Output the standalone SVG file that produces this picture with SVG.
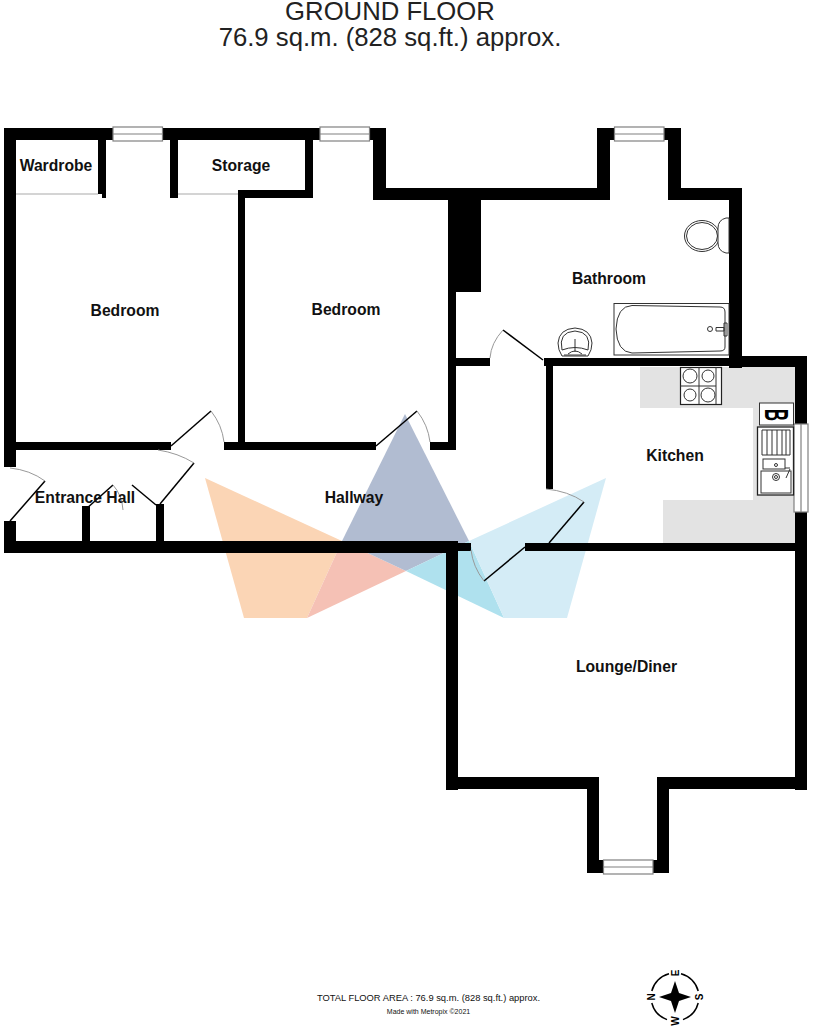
<svg xmlns="http://www.w3.org/2000/svg" width="816" height="1032" viewBox="0 0 816 1032">
<style>
text{font-family:"Liberation Sans",Arial,sans-serif;fill:#111}
.t{font-size:25.7px;text-anchor:middle;fill:#222}
.r{font-size:15.7px;font-weight:bold;text-anchor:middle}
.w{fill:#000}
.door{stroke:#000;stroke-width:1.5;fill:none}
.arc{stroke:#999;stroke-width:1;fill:none}
.win{fill:#fff;stroke:#808080;stroke-width:1.2}
.fx{fill:#fff;stroke:#333;stroke-width:1}
.fn{fill:none;stroke:#333;stroke-width:1}
.gl{stroke:#aaa;stroke-width:1.2;fill:none}
.c{font-size:10px;font-weight:bold;text-anchor:middle;fill:#000}
</style>
<defs>
<g id="window-h"><rect class="win" x="0" y="0" width="49.5" height="14"/><line class="win" x1="0" y1="7" x2="49.5" y2="7"/></g>
</defs>
<text class="t" x="390" y="20">GROUND FLOOR</text>
<text class="t" x="390" y="46">76.9 sq.m. (828 sq.ft.) approx.</text>

<g id="logo">
<polygon fill="#FBD5B5" points="205,478 244,618 307,618 342,541"/>
<polygon fill="#F5C1B5" points="342,541 307,618 406,571"/>
<polygon fill="#B1BCD1" points="405,414 342,541 406,571 469,541"/>
<polygon fill="#AFE1EE" points="406,571 469,541 504,618"/>
<polygon fill="#D4ECF6" points="606,478 567,618 504,618 469,541"/>
</g>

<g id="kitchen-counter" fill="#E3E3E3">
<path d="M640 367H795V543H663V500H753V408H640Z"/>
</g>

<g id="walls" class="w">
<rect x="4" y="128" width="12" height="339"/>
<rect x="4" y="128" width="109" height="12"/>
<rect x="162" y="128" width="158" height="12"/>
<rect x="369" y="128" width="17" height="12"/>
<rect x="98" y="128" width="8" height="66"/><rect x="102" y="190" width="4" height="8"/>
<rect x="170" y="128" width="8" height="70"/>
<rect x="305" y="128" width="8" height="70"/>
<rect x="238" y="190" width="75" height="8"/>
<rect x="238" y="190" width="7" height="260"/>
<rect x="373" y="128" width="13" height="72"/>
<rect x="373" y="188" width="237" height="12"/>
<rect x="597" y="128" width="13" height="72"/>
<rect x="597" y="128" width="17" height="12"/>
<rect x="664" y="128" width="17" height="12"/>
<rect x="668" y="128" width="13" height="72"/>
<rect x="668" y="188" width="74" height="12"/>
<rect x="729" y="188" width="13" height="180"/>
<rect x="449" y="200" width="32" height="92"/>
<rect x="448" y="200" width="8" height="250"/>
<rect x="16" y="442" width="155" height="8"/>
<rect x="224" y="442" width="152" height="8"/>
<rect x="430" y="442" width="26" height="8"/>
<rect x="456" y="358" width="34" height="8"/>
<rect x="544" y="358" width="198" height="8"/>
<rect x="546" y="358" width="7" height="131"/>
<rect x="736" y="356" width="71" height="11"/>
<rect x="795" y="356" width="12" height="68"/>
<rect x="795" y="512" width="12" height="278"/>
<rect x="4" y="521" width="12" height="32"/>
<rect x="4" y="541" width="448" height="12"/>
<rect x="82" y="506" width="8" height="35"/>
<rect x="156" y="504" width="8" height="37"/>
<rect x="446" y="541" width="12" height="249"/>
<rect x="446" y="543" width="25" height="8"/>
<rect x="525" y="543" width="282" height="8"/>
<rect x="446" y="777" width="153" height="12"/>
<rect x="657" y="777" width="150" height="12"/>
<rect x="587" y="777" width="12" height="96"/>
<rect x="657" y="777" width="12" height="96"/>
<rect x="587" y="860" width="16" height="13"/>
<rect x="653" y="860" width="16" height="13"/>
</g>

<g id="lines">
<line class="gl" x1="16" y1="194" x2="98" y2="194"/>
<line class="gl" x1="178" y1="194" x2="238" y2="194"/>
</g>

<g id="windows">
<use href="#window-h" x="113" y="127"/>
<use href="#window-h" x="320" y="127"/>
<use href="#window-h" x="614.5" y="127"/>
<use href="#window-h" x="603.5" y="860"/>
<g><rect class="win" x="794" y="424" width="14" height="88"/><line class="win" x1="801" y1="424" x2="801" y2="512"/></g>
</g>

<g id="doors">
<path class="door" d="M10 521L45 481"/><path class="arc" d="M45 481Q30 470 10 468"/>
<path class="door" d="M160 504L194 463"/><path class="arc" d="M194 463Q178 453 158 450"/>
<path class="door" d="M171 446L211 411"/><path class="arc" d="M211 411Q222 425 224 442"/>
<path class="door" d="M376 446L417 411"/><path class="arc" d="M417 411Q428 425 430 442"/>
<path class="door" d="M543 360L503 330"/><path class="arc" d="M503 330Q491 343 490 358"/>
<path class="door" d="M549 543L584 502"/><path class="arc" d="M584 502Q568 491 546 489"/>
<path class="door" d="M525 547L484 581"/><path class="arc" d="M484 581Q473 567 471 550"/>
<path class="door" d="M86 509L113 485"/><path class="arc" d="M113 485Q122 495 123 510"/>
<path class="door" d="M156 505L132 485"/>
</g>

<g id="toilet">
<ellipse class="fx" cx="702" cy="236" rx="17.5" ry="15.5"/>
<ellipse class="fn" cx="702" cy="236" rx="15.5" ry="13.5"/>
<path class="fx" d="M729 218H726Q718 220 718 228V243Q718 251 726 253H729Z"/>
</g>
<g id="bath">
<rect class="fx" x="614" y="303.500" width="115" height="51.500"/>
<path class="fn" d="M632 305.500L720 307Q725 307 725 312V347Q725 351 720 351L632 353Q617 352 616 329Q617 306 632 305.500Z"/>
<circle class="fn" cx="710" cy="329" r="2.500"/>
<path class="fn" d="M716 327.500H724V331H716ZM724 323H727V336H724Z"/>
</g>
<g id="basin">
<path class="fx" d="M562 356Q558 350 558 343Q559 329 575 328Q591 329 592 343Q592 350 588 356Z"/>
<path class="fn" d="M562 350Q558 332 575 331Q592 332 588 350Q575 345 562 350Z"/>
<path class="fn" d="M575 339V352M568 354Q575 348 582 354M564 355H586"/>
</g>
<g id="cooker">
<rect x="680.500" y="367.500" width="41" height="37" fill="#fff" stroke="#222" stroke-width="1.200"/>
<line class="fn" x1="699" y1="367" x2="699" y2="404"/><line class="fn" x1="680" y1="386" x2="716" y2="386"/><line class="fn" x1="716" y1="367" x2="716" y2="404"/>
<circle class="fn" cx="690" cy="376" r="7"/><circle class="fn" cx="708" cy="376" r="6"/>
<circle class="fn" cx="690" cy="395" r="6"/><circle class="fn" cx="708" cy="395" r="7"/>
</g>
<g id="boiler">
<rect class="fx" x="759.500" y="403" width="34" height="22"/>
<text transform="translate(777 415) rotate(90) scale(.5 1)" x="0" y="12" style="font-size:33px;font-weight:bold;text-anchor:middle;fill:#000">B</text>
</g>
<g id="sink">
<rect x="757.500" y="427" width="36" height="68" fill="#fff" stroke="#222" stroke-width="1.300"/>
<path class="fn" d="M762 430H790V455H762ZM767 430V455M772 430V455M777 430V455M782 430V455M786 430V455"/>
<rect class="fn" x="763" y="459" width="22" height="10"/>
<circle class="fn" cx="776" cy="465" r="1.500"/>
<rect class="fn" x="761" y="471" width="30" height="22"/>
<circle class="fn" cx="776" cy="477" r="3.500"/><circle class="fn" cx="776" cy="477" r="1.500"/>
<path class="fn" d="M786 478L790 469M785 468H790"/>
</g>

<g id="labels">
<text class="r" x="56" y="171">Wardrobe</text>
<text class="r" x="241" y="171">Storage</text>
<text class="r" x="125" y="316">Bedroom</text>
<text class="r" x="346" y="315">Bedroom</text>
<text class="r" x="609" y="284">Bathroom</text>
<text class="r" x="675" y="461">Kitchen</text>
<text class="r" x="85" y="503">Entrance Hall</text>
<text class="r" x="354" y="503">Hallway</text>
<text class="r" x="626.500" y="672">Lounge/Diner</text>
</g>

<g id="compass">
<path d="M681 973.800A24 24 0 0 1 698.200 991M698.200 1003A24 24 0 0 1 683 1019.600M667 1019.600A24 24 0 0 1 651.800 1003M651.800 991A24 24 0 0 1 669 973.800" fill="none" stroke="#000" stroke-width="1.500"/>
<path d="M675 981L679 993L691 997L679 1001L675 1013L671 1001L659 997L671 993Z" fill="#000"/>
<text class="c" transform="translate(678.500 973) rotate(-90)">E</text>
<text class="c" transform="translate(702.500 997) rotate(-90)">S</text>
<text class="c" transform="translate(678.500 1021) rotate(-90)">W</text>
<text class="c" transform="translate(654.500 997) rotate(-90)">N</text>
</g>

<text x="428.500" y="1001" style="font-size:9.350px;text-anchor:middle">TOTAL FLOOR AREA : 76.9 sq.m. (828 sq.ft.) approx.</text>
<text x="428.500" y="1013.500" style="font-size:7px;text-anchor:middle">Made with Metropix ©2021</text>
</svg>
